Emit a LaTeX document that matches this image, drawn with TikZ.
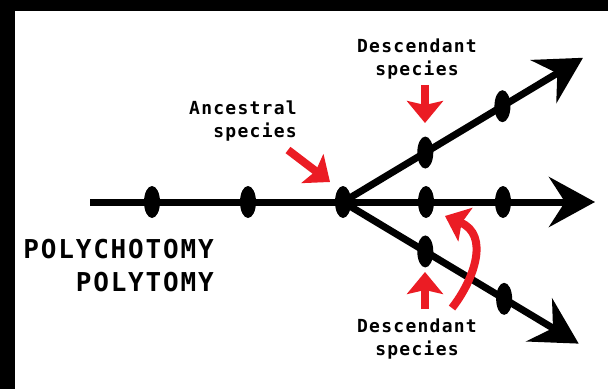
\documentclass[tikz,border=0pt]{standalone}
\usepackage{fontspec}
\usepackage{tikz}
\usetikzlibrary{
  shapes.geometric,
  arrows.meta,
  positioning
}
\newfontfamily\labelfont[LetterSpace=7]{DejaVu Sans Mono}
\definecolor{markred}{RGB}{235,28,36}

\begin{document}
\begin{tikzpicture}[x=1pt, y=1pt,
  lineage/.style={line width=7pt},
  tiparrow/.style={-{Stealth[length=46pt, width=50pt, inset=16pt]}},
  speciation/.style={ellipse, fill=black, minimum width=16pt, minimum height=32pt, inner sep=0pt},
  pointer/.style={markred, line width=8pt, -{Stealth[length=22pt, width=36pt, inset=4pt]}},
  caption/.style={font=\labelfont\bfseries\fontsize{18}{23}\selectfont, inner sep=0pt},
  bigcaption/.style={font=\labelfont\bfseries\fontsize{26}{33}\selectfont, inner sep=0pt}
]
  \def\ang{31} % branch angle

  % Frame
  \useasboundingbox (0,0) rectangle (608,389);
  \fill[white] (0,0) rectangle (608,389);
  \fill[black] (0,0) rectangle (15,389);
  \fill[black] (0,378) rectangle (608,389);

  % Branching point and ends
  \coordinate (stem) at (90,187);
  \coordinate (root) at (343,187);
  \coordinate (tipup) at ([shift={(\ang:280)}]root);
  \coordinate (tipmid) at (595,187);
  \coordinate (tipdown) at ([shift={(-\ang:275)}]root);

  % Lineages
  \draw[lineage] (stem) -- (root);
  \draw[lineage, tiparrow] (root) -- (tipup);
  \draw[lineage, tiparrow] (root) -- (tipmid);
  \draw[lineage, tiparrow] (root) -- (tipdown);

  % Species on the lineages
  \node[speciation] (anc1) at (152,187) {};
  \node[speciation] (anc2) at (248,187) {};
  \node[speciation] (ancroot) at (root) {};
  \node[speciation] (up1) at ([shift={(\ang:96)}]root) {};
  \node[speciation] (up2) at ([shift={(\ang:186)}]root) {};
  \node[speciation] (mid1) at (426,187) {};
  \node[speciation] (mid2) at (503,187) {};
  \node[speciation] (down1) at ([shift={(-\ang:96)}]root) {};
  \node[speciation] (down2) at ([shift={(-\ang:188)}]root) {};

  % Labels
  \node[caption, align=right, anchor=east] (anclabel) at (297,268) {Ancestral\\species};
  \node[caption, align=center] (uplabel) at (417,330) {Descendant\\species};
  \node[caption, align=center] (downlabel) at (417,50) {Descendant\\species};
  \node[bigcaption, align=right, anchor=east] (title) at (214,123) {POLYCHOTOMY\\POLYTOMY};

  % Red pointers
  \coordinate (ancfrom) at (288,239);
  \coordinate (ancto) at (330,207);
  \coordinate (upfrom) at (425,304);
  \coordinate (upto) at (425,266);
  \coordinate (downfrom) at (425,80);
  \coordinate (downto) at (425,117);
  \coordinate (bendfrom) at (452,81);
  \coordinate (bendto) at (445,173);
  \draw[pointer] (ancfrom) -- (ancto);
  \draw[pointer] (upfrom) -- (upto);
  \draw[pointer] (downfrom) -- (downto);
  \draw[pointer] (bendfrom) .. controls (474,109) and (490,154) .. (bendto);
\end{tikzpicture}
\end{document}
